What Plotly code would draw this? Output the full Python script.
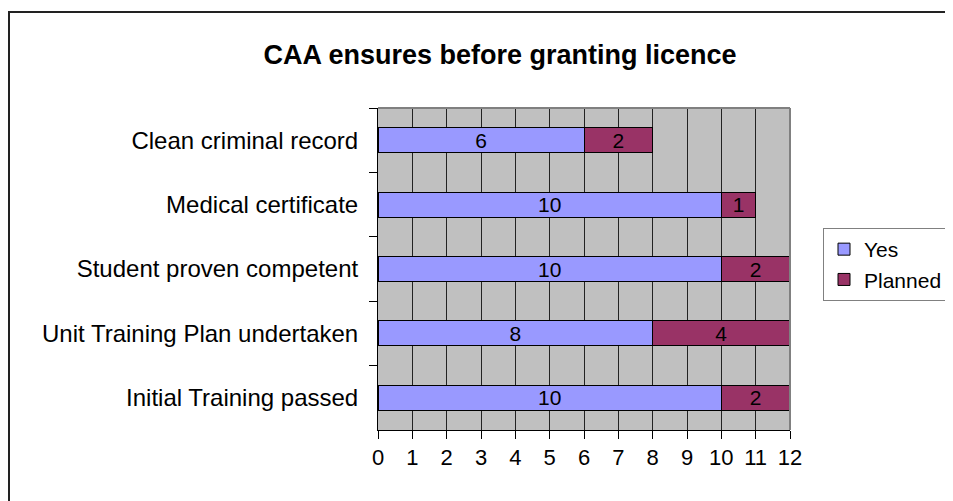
import plotly.graph_objects as go

# Daten (von oben nach unten)
kategorien = ["Clean criminal record", "Medical certificate", "Student proven competent",
              "Unit Training Plan undertaken", "Initial Training passed"]
ja = [6, 10, 10, 8, 10]
geplant = [2, 1, 2, 4, 2]
x_ticks = list(range(0, 13))

# Seite hat 8px Body-Rand -> alle Zielpositionen um 8px verschoben
W, H = 945, 493
L, R, T, B = 370, 163, 100, 71
pw, ph = W - L - R, H - T - B


def px_x(p):
    return (p - L) / pw


def px_y(p):
    return (H - B - p) / ph


fig = go.Figure()
for name, werte, farbe in [("Yes", ja, "#9999FF"), ("Planned", geplant, "#993366")]:
    fig.add_trace(go.Bar(y=kategorien, x=werte, orientation="h", name=name,
                         marker=dict(color=farbe, line=dict(color="black", width=1)),
                         text=werte, textposition="inside", insidetextanchor="middle",
                         textangle=0, constraintext="none",
                         textfont=dict(color="black", size=21, family="Liberation Sans, Arial")))

fig.update_layout(
    width=W, height=H,
    margin=dict(l=L, r=R, t=T, b=B, autoexpand=False),
    barmode="stack", bargap=0.61,
    paper_bgcolor="white", plot_bgcolor="#C0C0C0",
    font=dict(family="Liberation Sans, Arial", color="black", size=21),
    title=dict(text="<b>CAA ensures before granting licence</b>",
               font=dict(size=27, color="black"),
               xref="container", x=492 / W, xanchor="center",
               yref="container", y=(H - 47) / H, yanchor="middle"),
    showlegend=True,
    legend=dict(x=px_x(815), y=px_y(220), xanchor="left", yanchor="top",
                traceorder="normal", bordercolor="#808080", borderwidth=1,
                bgcolor="white", font=dict(size=21)),
)

fig.update_xaxes(range=[0, 12], tickvals=x_ticks, showgrid=True, gridcolor="#222222", gridwidth=1,
                 showline=True, linecolor="black", linewidth=1, ticks="outside", ticklen=8,
                 tickcolor="black", zeroline=False, tickfont=dict(size=22))
fig.update_yaxes(autorange="reversed", showline=True, linecolor="black", linewidth=1,
                 ticks="outside", ticklen=8, tickcolor="black", tickson="boundaries",
                 ticklabelstandoff=14, showgrid=False, tickfont=dict(size=24))

# Rahmen Plotfläche (oben/rechts grau)
fig.add_shape(type="line", xref="paper", yref="paper", x0=0, x1=1, y0=1, y1=1,
              line=dict(color="#808080", width=2))
fig.add_shape(type="line", xref="paper", yref="paper", x0=1, x1=1, y0=0, y1=1,
              line=dict(color="#808080", width=2))
# Äußerer Rahmen
fig.add_shape(type="rect", xref="paper", yref="paper",
              x0=px_x(1), x1=px_x(970), y0=px_y(520), y1=px_y(4),
              line=dict(color="#222222", width=2), layer="above")

fig.write_html("out.html")
